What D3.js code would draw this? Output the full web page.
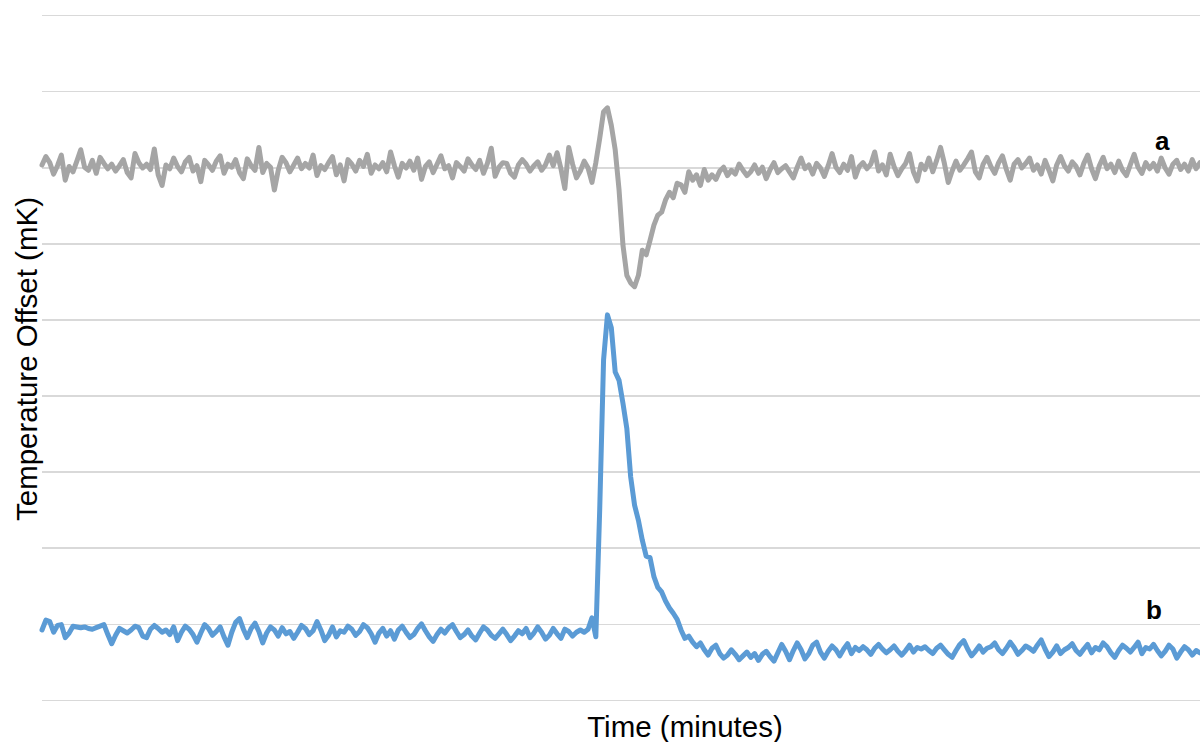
<!DOCTYPE html>
<html>
<head>
<meta charset="utf-8">
<script src="https://cdn.jsdelivr.net/npm/d3@7"></script>
<style>
  html, body { margin: 0; padding: 0; background: #ffffff; }
  svg { display: block; }
  text { font-family: "Liberation Sans", Arial, sans-serif; fill: #000; }
</style>
</head>
<body>
<svg id="chart" width="1200" height="742"></svg>
<script>
// Temperature offset traces (mK), one reading per minute
const seriesA = [
  70.3, 71.4, 70.6, 69.1, 70.2, 71.6, 68.3, 70.1, 69.4, 70.8, 72.3, 70.0, 69.6, 70.9, 69.2, 71.3, 70.5, 69.8, 70.4, 69.5,
  70.2, 71.0, 69.3, 68.6, 71.8, 70.6, 69.9, 70.4, 69.7, 72.4, 69.0, 67.6, 70.3, 69.8, 71.2, 70.1, 69.4, 70.7, 71.3, 69.5,
  70.2, 68.1, 70.9, 70.3, 69.6, 70.8, 71.5, 69.2, 70.4, 70.0, 71.0, 69.3, 68.5, 71.1, 70.2, 69.6, 72.6, 69.3, 70.5, 70.0,
  67.0, 69.6, 71.3, 70.6, 69.4, 70.3, 71.2, 69.8, 70.5, 69.9, 71.6, 68.9, 70.2, 69.7, 70.6, 71.4, 69.0, 70.3, 68.2, 71.0,
  70.4, 69.5, 70.9, 70.1, 71.7, 69.2, 70.3, 69.8, 70.6, 69.4, 72.0, 70.2, 68.7, 70.5, 69.9, 70.8, 69.6, 71.2, 68.4, 70.1,
  70.7, 69.3, 70.4, 71.5, 69.8, 70.2, 68.6, 70.6, 70.1, 69.5, 71.1, 70.3, 69.7, 70.9, 69.2, 70.5, 72.5, 68.8, 70.0, 70.6,
  70.5, 69.2, 68.7, 70.3, 71.0, 70.4, 69.5, 70.2, 70.7, 69.6, 70.3, 71.6, 70.2, 71.9, 69.8, 67.2, 72.6, 70.4, 68.6, 69.5,
  70.8, 69.9, 68.0,
  70.6, 73.8, 77.3, 77.8, 75.5, 72.3, 67.0, 59.8, 55.8, 54.8, 54.3, 55.8, 59.1, 58.5, 60.4, 62.4, 63.7, 64.1, 65.7, 66.7,
  66.0, 67.9, 67.7, 66.7, 69.4, 68.3, 69.0, 67.6, 69.7, 68.3,
  69.0, 68.4, 69.5, 70.0, 68.9, 69.6, 69.1, 70.4, 69.6, 68.9, 69.4, 70.3, 69.2, 70.0, 68.5, 69.7, 70.6, 69.3, 69.8, 70.2,
  69.4, 68.6, 70.0, 71.2, 69.8, 70.3, 69.1, 70.5, 69.9, 68.8, 70.2, 71.8, 70.0, 69.3, 70.4, 69.6, 71.4, 68.7, 70.1, 70.6,
  69.8, 70.4, 72.0, 69.5, 70.3, 69.0, 71.7, 70.1, 68.9, 69.8, 70.5, 71.8, 69.4, 68.2, 70.4, 69.7, 71.2, 69.4, 70.9, 72.6,
  70.5, 68.0, 69.5, 70.8, 69.6, 70.3, 71.1, 72.0, 69.4, 68.6, 70.4, 71.3, 70.1, 69.2, 70.6, 71.5, 69.7, 68.3, 70.4, 71.0,
  69.9, 70.5, 71.2, 69.6, 70.3, 69.1, 70.9, 69.6, 68.2, 70.3, 71.4, 70.2, 69.5, 70.7, 70.1, 69.0, 70.5, 71.6, 69.8, 68.5,
  70.2, 71.3, 69.8, 70.4, 69.3, 70.8, 69.6, 68.9, 70.3, 71.7, 70.0, 69.2, 70.6, 69.8, 70.5, 69.5, 71.2, 69.9, 69.1, 70.4,
  70.9, 69.7, 70.4, 69.5, 71.0, 69.8, 70.6
];

const seriesB = [
  9.2, 10.5, 10.3, 8.9, 9.8, 9.9, 8.2, 8.8, 9.7, 9.6, 9.5, 9.6, 9.4, 9.3, 9.5, 9.7, 9.9, 8.6, 7.4, 8.5,
  9.4, 9.1, 8.8, 9.2, 9.7, 9.5, 8.4, 8.2, 9.3, 9.8, 9.4, 8.9, 9.2, 8.6, 9.6, 7.8, 8.9, 9.7, 9.3, 8.6,
  7.6, 8.8, 9.9, 9.4, 8.5, 9.0, 9.6, 8.3, 7.2, 8.9, 10.2, 10.7, 9.3, 8.2, 9.4, 10.1, 9.0, 7.5, 8.8, 9.6,
  9.2, 8.4, 9.5, 8.7, 9.0, 8.1, 8.9, 9.8, 9.4, 8.6, 9.1, 10.3, 9.2, 7.8, 8.5, 9.6, 8.3, 9.1, 8.9, 9.7,
  9.3, 8.5, 9.0, 9.9, 9.5, 8.7, 7.6, 8.8, 9.4, 8.4, 9.1, 8.0, 9.2, 9.7, 8.9, 8.2, 8.6, 9.4, 10.0, 9.1,
  8.3, 7.7, 8.6, 9.3, 8.8, 9.5, 9.9, 9.0, 8.2, 8.6, 9.2, 8.4, 7.9, 8.8, 9.6, 9.2, 8.5, 8.1, 8.7, 9.3,
  8.6, 7.8, 8.4, 9.1, 8.7, 9.4, 8.2, 8.8, 9.6, 8.9, 8.0, 8.5, 9.4, 8.7, 8.1, 9.3, 9.0, 8.4, 8.9, 9.2,
  8.9, 9.3, 10.8, 8.3, 25.0, 44.7, 50.6, 48.9, 43.1, 42.0, 39.0, 35.7, 29.3, 25.6, 23.6, 21.0, 18.9, 18.7, 16.2, 14.8,
  14.2, 13.0, 12.1, 11.4, 10.6, 9.2, 8.1, 8.4, 7.6, 7.0, 7.5, 6.6, 5.9, 6.8, 7.2,
  6.1, 5.5, 5.9, 6.6, 6.0, 5.3, 5.8, 6.3, 5.6, 6.1, 5.2, 6.0, 6.4, 5.7, 5.1, 6.2, 7.3, 6.4, 5.3, 6.5,
  7.5, 6.6, 5.4, 6.1, 7.2, 7.6, 6.3, 5.5, 6.4, 7.1, 6.6, 5.8, 6.7, 7.4, 6.1, 6.9, 6.5, 7.0, 6.6, 6.0,
  6.8, 7.3, 6.7, 6.2, 6.6, 7.1, 6.4, 5.9, 6.5, 7.2, 6.3, 6.9, 6.7, 7.0, 6.5, 6.1, 6.8, 7.2, 6.6, 6.0,
  5.6, 6.5, 7.3, 7.8, 6.7, 5.8, 6.4, 7.1, 6.3, 6.8, 7.0, 7.5, 6.6, 6.1, 6.8, 7.6, 6.9, 6.0, 6.5, 7.1,
  6.8, 6.4, 7.2, 7.9, 6.7, 5.7, 6.3, 7.1, 6.1, 6.6, 6.9, 7.4, 6.5, 6.0, 6.7, 7.3, 6.2, 6.9, 6.6, 7.5,
  7.0, 6.2, 5.6, 6.5, 7.2, 6.8, 6.3, 6.9, 7.6, 6.1, 6.9, 6.7, 7.3, 6.5, 5.8, 6.4, 7.2, 6.7, 5.5, 6.3,
  7.0, 6.6, 5.9, 6.5, 6.2
];

const seriesNames = ["a", "b"];
const seriesColors = ["#a5a5a5", "#5b9bd5"];
const gridValues = [0, 10, 20, 30, 40, 50, 60, 70, 80, 90];
const xTitle = "Time (minutes)";
const yTitle = "Temperature Offset (mK)";

const svg = d3.select("#chart");
const plot = { left: 42, right: 1200, top: 15, bottom: 700 };

const x = d3.scaleLinear()
  .domain([0, seriesA.length - 1])
  .range([plot.left, plot.right]);

const y = d3.scaleLinear()
  .domain([0, 90])
  .range([plot.bottom, plot.top]);

// horizontal gridlines, no tick labels
const yAxis = d3.axisLeft(y)
  .tickValues(gridValues)
  .tickSize(-(plot.right - plot.left))
  .tickFormat("");

const gAxis = svg.append("g")
  .attr("transform", `translate(${plot.left},0)`)
  .call(yAxis);
gAxis.select(".domain").remove();
gAxis.selectAll(".tick line")
  .attr("stroke", "#d9d9d9")
  .attr("stroke-width", 1.6)
  .attr("shape-rendering", "crispEdges");

const line = d3.line()
  .x((d, i) => x(i))
  .y(d => y(d))
  .curve(d3.curveLinear);

[seriesA, seriesB].forEach((data, k) => {
  svg.append("path")
    .datum(data)
    .attr("fill", "none")
    .attr("stroke", seriesColors[k])
    .attr("stroke-width", 5)
    .attr("stroke-linejoin", "round")
    .attr("stroke-linecap", "round")
    .attr("d", line);
});

// series labels
svg.append("text")
  .attr("x", 1155).attr("y", 150)
  .attr("font-size", 26).attr("font-weight", "bold")
  .text(seriesNames[0]);

svg.append("text")
  .attr("x", 1146).attr("y", 619)
  .attr("font-size", 26).attr("font-weight", "bold")
  .text(seriesNames[1]);

// axis titles
svg.append("text")
  .attr("x", 685).attr("y", 737)
  .attr("text-anchor", "middle")
  .attr("font-size", 29.5)
  .text(xTitle);

svg.append("text")
  .attr("transform", "translate(37,359) rotate(-90)")
  .attr("text-anchor", "middle")
  .attr("font-size", 29.5)
  .text(yTitle);
</script>
</body>
</html>
